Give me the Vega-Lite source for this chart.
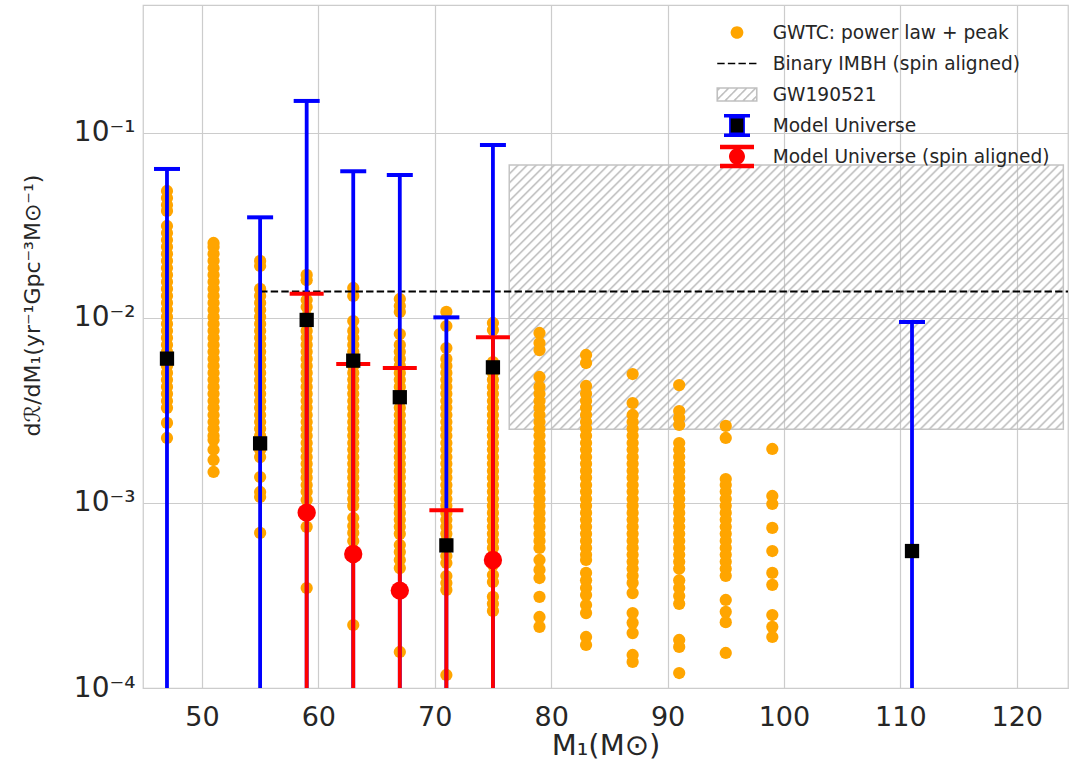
{
"$schema": "https://vega.github.io/schema/vega-lite/v6.json",
"width": 925, "height": 683,
"autosize": {"type": "none"},
"padding": {"left": 143, "top": 5, "right": 2, "bottom": 76},
"background": "white",
"config": {
  "view": {"stroke": "#cccccc", "strokeWidth": 1.25},
  "font": "DejaVu Sans",
  "axis": {"grid": true, "gridColor": "#cccccc", "gridWidth": 1.2, "domain": false, "ticks": false, "labelFont": "DejaVu Sans", "labelColor": "#262626", "labelFontSize": 27, "titleFont": "DejaVu Sans", "titleColor": "#262626", "titleFontWeight": "normal"}
},
"datasets": {
  "box": [{"m": 76.4, "m2": 124.0, "v": 0.0671, "v2": 0.0025}],
  "imbh": [{"m": 55, "m2": 125, "v": 0.0139}],
  "mu": [
    {"m": 47, "c": 0.00603, "hi": 0.0639, "lo": 0.000001},
    {"m": 55, "c": 0.0021, "hi": 0.035, "lo": 0.000001},
    {"m": 59, "c": 0.00976, "hi": 0.149, "lo": 0.000001},
    {"m": 63, "c": 0.00588, "hi": 0.0621, "lo": 0.000001},
    {"m": 67, "c": 0.00373, "hi": 0.0593, "lo": 0.000001},
    {"m": 71, "c": 0.00059, "hi": 0.01008, "lo": 0.000001},
    {"m": 75, "c": 0.00541, "hi": 0.0861, "lo": 0.000001},
    {"m": 111, "c": 0.00055, "hi": 0.00951, "lo": 0.000001}
  ],
  "mus": [
    {"m": 59, "c": 0.000887, "hi": 0.01353, "lo": 0.000001},
    {"m": 63, "c": 0.00053, "hi": 0.00564, "lo": 0.000001},
    {"m": 67, "c": 0.000336, "hi": 0.00537, "lo": 0.000001},
    {"m": 71, "hi": 0.000913, "lo": 0.000001},
    {"m": 75, "c": 0.000492, "hi": 0.00787, "lo": 0.000001}
  ],
  "gwtc": [
    {"m":47,"v":0.04858},{"m":47,"v":0.04453},{"m":47,"v":0.04082},{"m":47,"v":0.0379},{"m":47,"v":0.03143},{"m":47,"v":0.02881},{"m":47,"v":0.02641},{"m":47,"v":0.02421},{"m":47,"v":0.02219},{"m":47,"v":0.02034},{"m":47,"v":0.01864},{"m":47,"v":0.01709},{"m":47,"v":0.01566},{"m":47,"v":0.01436},{"m":47,"v":0.01316},{"m":47,"v":0.01206},{"m":47,"v":0.01106},{"m":47,"v":0.01013},{"m":47,"v":0.00929},{"m":47,"v":0.00851},{"m":47,"v":0.0078},{"m":47,"v":0.00715},{"m":47,"v":0.00656},{"m":47,"v":0.00601},{"m":47,"v":0.00551},{"m":47,"v":0.00505},{"m":47,"v":0.00463},{"m":47,"v":0.00424},{"m":47,"v":0.00389},{"m":47,"v":0.00356},{"m":47,"v":0.00327},{"m":47,"v":0.00271},{"m":47,"v":0.002246},
    {"m":51,"v":0.02543},{"m":51,"v":0.02421},{"m":51,"v":0.02219},{"m":51,"v":0.02034},{"m":51,"v":0.01864},{"m":51,"v":0.01709},{"m":51,"v":0.01566},{"m":51,"v":0.01436},{"m":51,"v":0.01316},{"m":51,"v":0.01206},{"m":51,"v":0.01106},{"m":51,"v":0.01013},{"m":51,"v":0.00929},{"m":51,"v":0.00851},{"m":51,"v":0.0078},{"m":51,"v":0.00715},{"m":51,"v":0.00656},{"m":51,"v":0.00601},{"m":51,"v":0.00551},{"m":51,"v":0.00505},{"m":51,"v":0.00463},{"m":51,"v":0.00424},{"m":51,"v":0.00389},{"m":51,"v":0.00356},{"m":51,"v":0.00327},{"m":51,"v":0.00299},{"m":51,"v":0.00274},{"m":51,"v":0.00252},{"m":51,"v":0.00231},{"m":51,"v":0.00219},{"m":51,"v":0.00194},{"m":51,"v":0.001707},{"m":51,"v":0.001471},
    {"m":55,"v":0.02034},{"m":55,"v":0.0191},{"m":55,"v":0.01436},{"m":55,"v":0.01316},{"m":55,"v":0.01206},{"m":55,"v":0.01106},{"m":55,"v":0.01013},{"m":55,"v":0.00929},{"m":55,"v":0.00851},{"m":55,"v":0.0078},{"m":55,"v":0.00715},{"m":55,"v":0.00656},{"m":55,"v":0.00601},{"m":55,"v":0.00551},{"m":55,"v":0.00505},{"m":55,"v":0.00463},{"m":55,"v":0.00424},{"m":55,"v":0.00389},{"m":55,"v":0.00356},{"m":55,"v":0.00327},{"m":55,"v":0.00299},{"m":55,"v":0.00274},{"m":55,"v":0.00252},{"m":55,"v":0.00231},{"m":55,"v":0.00211},{"m":55,"v":0.00194},{"m":55,"v":0.00177},{"m":55,"v":0.001382},{"m":55,"v":0.001147},{"m":55,"v":0.001078},{"m":55,"v":0.000689},
    {"m":59,"v":0.01709},{"m":59,"v":0.016},{"m":59,"v":0.01251},{"m":59,"v":0.01147},{"m":59,"v":0.01013},{"m":59,"v":0.00929},{"m":59,"v":0.00851},{"m":59,"v":0.0078},{"m":59,"v":0.00715},{"m":59,"v":0.00656},{"m":59,"v":0.00601},{"m":59,"v":0.00551},{"m":59,"v":0.00505},{"m":59,"v":0.00463},{"m":59,"v":0.00424},{"m":59,"v":0.00389},{"m":59,"v":0.00356},{"m":59,"v":0.00327},{"m":59,"v":0.00299},{"m":59,"v":0.00274},{"m":59,"v":0.00252},{"m":59,"v":0.00231},{"m":59,"v":0.00211},{"m":59,"v":0.00194},{"m":59,"v":0.00177},{"m":59,"v":0.00163},{"m":59,"v":0.00149},{"m":59,"v":0.00137},{"m":59,"v":0.00125},{"m":59,"v":0.00115},{"m":59,"v":0.001038},{"m":59,"v":0.000884},{"m":59,"v":0.000743},{"m":59,"v":0.000347},
    {"m":63,"v":0.01453},{"m":63,"v":0.01316},{"m":63,"v":0.00963},{"m":63,"v":0.00851},{"m":63,"v":0.0078},{"m":63,"v":0.00715},{"m":63,"v":0.00656},{"m":63,"v":0.00601},{"m":63,"v":0.00551},{"m":63,"v":0.00505},{"m":63,"v":0.00463},{"m":63,"v":0.00424},{"m":63,"v":0.00389},{"m":63,"v":0.00356},{"m":63,"v":0.00327},{"m":63,"v":0.00299},{"m":63,"v":0.00274},{"m":63,"v":0.00252},{"m":63,"v":0.00231},{"m":63,"v":0.00211},{"m":63,"v":0.00194},{"m":63,"v":0.00177},{"m":63,"v":0.00163},{"m":63,"v":0.00149},{"m":63,"v":0.00137},{"m":63,"v":0.00125},{"m":63,"v":0.00115},{"m":63,"v":0.00105},{"m":63,"v":0.000965},{"m":63,"v":0.00083},{"m":63,"v":0.000751},{"m":63,"v":0.000689},{"m":63,"v":0.000623},{"m":63,"v":0.000219},
    {"m":67,"v":0.01267},{"m":67,"v":0.01161},{"m":67,"v":0.01078},{"m":67,"v":0.00819},{"m":67,"v":0.00715},{"m":67,"v":0.00656},{"m":67,"v":0.00601},{"m":67,"v":0.00551},{"m":67,"v":0.00505},{"m":67,"v":0.00463},{"m":67,"v":0.00424},{"m":67,"v":0.00389},{"m":67,"v":0.00356},{"m":67,"v":0.00327},{"m":67,"v":0.00299},{"m":67,"v":0.00274},{"m":67,"v":0.00252},{"m":67,"v":0.00231},{"m":67,"v":0.00211},{"m":67,"v":0.00194},{"m":67,"v":0.00177},{"m":67,"v":0.00163},{"m":67,"v":0.00149},{"m":67,"v":0.00137},{"m":67,"v":0.00125},{"m":67,"v":0.00115},{"m":67,"v":0.00105},{"m":67,"v":0.000965},{"m":67,"v":0.000884},{"m":67,"v":0.000811},{"m":67,"v":0.000743},{"m":67,"v":0.000681},{"m":67,"v":0.000593},{"m":67,"v":0.000543},{"m":67,"v":0.000492},{"m":67,"v":0.000445},{"m":67,"v":0.0001566},
    {"m":71,"v":0.01078},{"m":71,"v":0.00905},{"m":71,"v":0.00688},{"m":71,"v":0.00601},{"m":71,"v":0.00551},{"m":71,"v":0.00505},{"m":71,"v":0.00463},{"m":71,"v":0.00424},{"m":71,"v":0.00389},{"m":71,"v":0.00356},{"m":71,"v":0.00327},{"m":71,"v":0.00299},{"m":71,"v":0.00274},{"m":71,"v":0.00252},{"m":71,"v":0.00231},{"m":71,"v":0.00211},{"m":71,"v":0.00194},{"m":71,"v":0.00177},{"m":71,"v":0.00163},{"m":71,"v":0.00149},{"m":71,"v":0.00137},{"m":71,"v":0.00125},{"m":71,"v":0.00115},{"m":71,"v":0.00105},{"m":71,"v":0.000965},{"m":71,"v":0.000884},{"m":71,"v":0.000811},{"m":71,"v":0.000743},{"m":71,"v":0.000681},{"m":71,"v":0.000624},{"m":71,"v":0.000517},{"m":71,"v":0.000474},{"m":71,"v":0.000403},{"m":71,"v":0.000369},{"m":71,"v":0.000339},{"m":71,"v":0.0001176},
    {"m":75,"v":0.0094},{"m":75,"v":0.00861},{"m":75,"v":0.00578},{"m":75,"v":0.00505},{"m":75,"v":0.00463},{"m":75,"v":0.00424},{"m":75,"v":0.00389},{"m":75,"v":0.00356},{"m":75,"v":0.00327},{"m":75,"v":0.00299},{"m":75,"v":0.00274},{"m":75,"v":0.00252},{"m":75,"v":0.00231},{"m":75,"v":0.00211},{"m":75,"v":0.00194},{"m":75,"v":0.00177},{"m":75,"v":0.00163},{"m":75,"v":0.00149},{"m":75,"v":0.00137},{"m":75,"v":0.00125},{"m":75,"v":0.00115},{"m":75,"v":0.00105},{"m":75,"v":0.000965},{"m":75,"v":0.000884},{"m":75,"v":0.000811},{"m":75,"v":0.000743},{"m":75,"v":0.000681},{"m":75,"v":0.000624},{"m":75,"v":0.000572},{"m":75,"v":0.000517},{"m":75,"v":0.000462},{"m":75,"v":0.000408},{"m":75,"v":0.000374},{"m":75,"v":0.000311},{"m":75,"v":0.000285},{"m":75,"v":0.000261},
    {"m":79,"v":0.0083},{"m":79,"v":0.00732},{"m":79,"v":0.00671},{"m":79,"v":0.0048},{"m":79,"v":0.00424},{"m":79,"v":0.00389},{"m":79,"v":0.00356},{"m":79,"v":0.00327},{"m":79,"v":0.00299},{"m":79,"v":0.00274},{"m":79,"v":0.00252},{"m":79,"v":0.00231},{"m":79,"v":0.00211},{"m":79,"v":0.00194},{"m":79,"v":0.00177},{"m":79,"v":0.00163},{"m":79,"v":0.00149},{"m":79,"v":0.00137},{"m":79,"v":0.00125},{"m":79,"v":0.00115},{"m":79,"v":0.00105},{"m":79,"v":0.000965},{"m":79,"v":0.000884},{"m":79,"v":0.000811},{"m":79,"v":0.000743},{"m":79,"v":0.000681},{"m":79,"v":0.000624},{"m":79,"v":0.000572},{"m":79,"v":0.000492},{"m":79,"v":0.000435},{"m":79,"v":0.000393},{"m":79,"v":0.000311},{"m":79,"v":0.000242},{"m":79,"v":0.000214},
    {"m":83,"v":0.00631},{"m":83,"v":0.00571},{"m":83,"v":0.00429},{"m":83,"v":0.00389},{"m":83,"v":0.00356},{"m":83,"v":0.00327},{"m":83,"v":0.00299},{"m":83,"v":0.00274},{"m":83,"v":0.00252},{"m":83,"v":0.00231},{"m":83,"v":0.00211},{"m":83,"v":0.00194},{"m":83,"v":0.00177},{"m":83,"v":0.00163},{"m":83,"v":0.00149},{"m":83,"v":0.00137},{"m":83,"v":0.00125},{"m":83,"v":0.00115},{"m":83,"v":0.00105},{"m":83,"v":0.000965},{"m":83,"v":0.000884},{"m":83,"v":0.000811},{"m":83,"v":0.000743},{"m":83,"v":0.000681},{"m":83,"v":0.000624},{"m":83,"v":0.000572},{"m":83,"v":0.000525},{"m":83,"v":0.000492},{"m":83,"v":0.000419},{"m":83,"v":0.000382},{"m":83,"v":0.000347},{"m":83,"v":0.000318},{"m":83,"v":0.000281},{"m":83,"v":0.000254},{"m":83,"v":0.0001887},{"m":83,"v":0.0001708},
    {"m":87,"v":0.00498},{"m":87,"v":0.00347},{"m":87,"v":0.00299},{"m":87,"v":0.00274},{"m":87,"v":0.00252},{"m":87,"v":0.00231},{"m":87,"v":0.00211},{"m":87,"v":0.00194},{"m":87,"v":0.00177},{"m":87,"v":0.00163},{"m":87,"v":0.00149},{"m":87,"v":0.00137},{"m":87,"v":0.00125},{"m":87,"v":0.00115},{"m":87,"v":0.00105},{"m":87,"v":0.000965},{"m":87,"v":0.000884},{"m":87,"v":0.000811},{"m":87,"v":0.000743},{"m":87,"v":0.000681},{"m":87,"v":0.000624},{"m":87,"v":0.000572},{"m":87,"v":0.000525},{"m":87,"v":0.000481},{"m":87,"v":0.000441},{"m":87,"v":0.000404},{"m":87,"v":0.00037},{"m":87,"v":0.000326},{"m":87,"v":0.000254},{"m":87,"v":0.000225},{"m":87,"v":0.000198},{"m":87,"v":0.0001508},{"m":87,"v":0.0001383},
    {"m":91,"v":0.00434},{"m":91,"v":0.00314},{"m":91,"v":0.00288},{"m":91,"v":0.00264},{"m":91,"v":0.00211},{"m":91,"v":0.00194},{"m":91,"v":0.00177},{"m":91,"v":0.00163},{"m":91,"v":0.00149},{"m":91,"v":0.00137},{"m":91,"v":0.00125},{"m":91,"v":0.00115},{"m":91,"v":0.00105},{"m":91,"v":0.000965},{"m":91,"v":0.000884},{"m":91,"v":0.000811},{"m":91,"v":0.000743},{"m":91,"v":0.000681},{"m":91,"v":0.000624},{"m":91,"v":0.000572},{"m":91,"v":0.000525},{"m":91,"v":0.000481},{"m":91,"v":0.000441},{"m":91,"v":0.000382},{"m":91,"v":0.000347},{"m":91,"v":0.000314},{"m":91,"v":0.000285},{"m":91,"v":0.0001818},{"m":91,"v":0.0001667},{"m":91,"v":0.0001205},
    {"m":95,"v":0.00261},{"m":95,"v":0.002246},{"m":95,"v":0.001348},{"m":95,"v":0.00125},{"m":95,"v":0.00115},{"m":95,"v":0.00105},{"m":95,"v":0.000965},{"m":95,"v":0.000884},{"m":95,"v":0.000811},{"m":95,"v":0.000743},{"m":95,"v":0.000681},{"m":95,"v":0.000624},{"m":95,"v":0.000572},{"m":95,"v":0.000525},{"m":95,"v":0.000481},{"m":95,"v":0.000441},{"m":95,"v":0.000404},{"m":95,"v":0.000299},{"m":95,"v":0.000258},{"m":95,"v":0.000227},{"m":95,"v":0.0001546},
    {"m":99,"v":0.001959},{"m":99,"v":0.001091},{"m":99,"v":0.000988},{"m":99,"v":0.000733},{"m":99,"v":0.00055},{"m":99,"v":0.000419},{"m":99,"v":0.000361},{"m":99,"v":0.000248},{"m":99,"v":0.000214},{"m":99,"v":0.0001887}
  ]
},
"layer": [
  {
    "data": {"name": "box"},
    "mark": {"type": "rect", "stroke": "#c4c4c4", "strokeWidth": 1.5, "fill": {"gradient": "linear", "x1": 0, "y1": 0, "x2": 1.2032, "y2": 0.5744, "stops": [
      {"offset":0,"color":"#b8b8b8"},{"offset":0.0025,"color":"rgba(184,184,184,0)"},{"offset":0.0085,"color":"rgba(184,184,184,0)"},
      {"offset":0.011,"color":"#b8b8b8"},{"offset":0.0135,"color":"rgba(184,184,184,0)"},{"offset":0.0195,"color":"rgba(184,184,184,0)"},
      {"offset":0.022,"color":"#b8b8b8"},{"offset":0.0245,"color":"rgba(184,184,184,0)"},{"offset":0.0305,"color":"rgba(184,184,184,0)"},
      {"offset":0.033,"color":"#b8b8b8"},{"offset":0.0355,"color":"rgba(184,184,184,0)"},{"offset":0.0415,"color":"rgba(184,184,184,0)"},
      {"offset":0.044,"color":"#b8b8b8"},{"offset":0.0465,"color":"rgba(184,184,184,0)"},{"offset":0.0525,"color":"rgba(184,184,184,0)"},
      {"offset":0.055,"color":"#b8b8b8"},{"offset":0.0575,"color":"rgba(184,184,184,0)"},{"offset":0.0635,"color":"rgba(184,184,184,0)"},
      {"offset":0.066,"color":"#b8b8b8"},{"offset":0.0685,"color":"rgba(184,184,184,0)"},{"offset":0.0745,"color":"rgba(184,184,184,0)"},
      {"offset":0.077,"color":"#b8b8b8"},{"offset":0.0795,"color":"rgba(184,184,184,0)"},{"offset":0.0855,"color":"rgba(184,184,184,0)"},
      {"offset":0.088,"color":"#b8b8b8"},{"offset":0.0905,"color":"rgba(184,184,184,0)"},{"offset":0.0965,"color":"rgba(184,184,184,0)"},
      {"offset":0.099,"color":"#b8b8b8"},{"offset":0.1015,"color":"rgba(184,184,184,0)"},{"offset":0.1075,"color":"rgba(184,184,184,0)"},
      {"offset":0.11,"color":"#b8b8b8"},{"offset":0.1125,"color":"rgba(184,184,184,0)"},{"offset":0.1185,"color":"rgba(184,184,184,0)"},
      {"offset":0.121,"color":"#b8b8b8"},{"offset":0.1235,"color":"rgba(184,184,184,0)"},{"offset":0.1295,"color":"rgba(184,184,184,0)"},
      {"offset":0.132,"color":"#b8b8b8"},{"offset":0.1345,"color":"rgba(184,184,184,0)"},{"offset":0.1405,"color":"rgba(184,184,184,0)"},
      {"offset":0.143,"color":"#b8b8b8"},{"offset":0.1455,"color":"rgba(184,184,184,0)"},{"offset":0.1515,"color":"rgba(184,184,184,0)"},
      {"offset":0.154,"color":"#b8b8b8"},{"offset":0.1565,"color":"rgba(184,184,184,0)"},{"offset":0.1625,"color":"rgba(184,184,184,0)"},
      {"offset":0.165,"color":"#b8b8b8"},{"offset":0.1675,"color":"rgba(184,184,184,0)"},{"offset":0.1735,"color":"rgba(184,184,184,0)"},
      {"offset":0.176,"color":"#b8b8b8"},{"offset":0.1785,"color":"rgba(184,184,184,0)"},{"offset":0.1845,"color":"rgba(184,184,184,0)"},
      {"offset":0.187,"color":"#b8b8b8"},{"offset":0.1895,"color":"rgba(184,184,184,0)"},{"offset":0.1955,"color":"rgba(184,184,184,0)"},
      {"offset":0.198,"color":"#b8b8b8"},{"offset":0.2005,"color":"rgba(184,184,184,0)"},{"offset":0.2065,"color":"rgba(184,184,184,0)"},
      {"offset":0.209,"color":"#b8b8b8"},{"offset":0.2115,"color":"rgba(184,184,184,0)"},{"offset":0.2175,"color":"rgba(184,184,184,0)"},
      {"offset":0.22,"color":"#b8b8b8"},{"offset":0.2225,"color":"rgba(184,184,184,0)"},{"offset":0.2285,"color":"rgba(184,184,184,0)"},
      {"offset":0.231,"color":"#b8b8b8"},{"offset":0.2335,"color":"rgba(184,184,184,0)"},{"offset":0.2395,"color":"rgba(184,184,184,0)"},
      {"offset":0.242,"color":"#b8b8b8"},{"offset":0.2445,"color":"rgba(184,184,184,0)"},{"offset":0.2505,"color":"rgba(184,184,184,0)"},
      {"offset":0.253,"color":"#b8b8b8"},{"offset":0.2555,"color":"rgba(184,184,184,0)"},{"offset":0.2615,"color":"rgba(184,184,184,0)"},
      {"offset":0.264,"color":"#b8b8b8"},{"offset":0.2665,"color":"rgba(184,184,184,0)"},{"offset":0.2725,"color":"rgba(184,184,184,0)"},
      {"offset":0.275,"color":"#b8b8b8"},{"offset":0.2775,"color":"rgba(184,184,184,0)"},{"offset":0.2835,"color":"rgba(184,184,184,0)"},
      {"offset":0.286,"color":"#b8b8b8"},{"offset":0.2885,"color":"rgba(184,184,184,0)"},{"offset":0.2945,"color":"rgba(184,184,184,0)"},
      {"offset":0.297,"color":"#b8b8b8"},{"offset":0.2995,"color":"rgba(184,184,184,0)"},{"offset":0.3055,"color":"rgba(184,184,184,0)"},
      {"offset":0.308,"color":"#b8b8b8"},{"offset":0.3105,"color":"rgba(184,184,184,0)"},{"offset":0.3165,"color":"rgba(184,184,184,0)"},
      {"offset":0.319,"color":"#b8b8b8"},{"offset":0.3215,"color":"rgba(184,184,184,0)"},{"offset":0.3275,"color":"rgba(184,184,184,0)"},
      {"offset":0.33,"color":"#b8b8b8"},{"offset":0.3325,"color":"rgba(184,184,184,0)"},{"offset":0.3385,"color":"rgba(184,184,184,0)"},
      {"offset":0.341,"color":"#b8b8b8"},{"offset":0.3435,"color":"rgba(184,184,184,0)"},{"offset":0.3495,"color":"rgba(184,184,184,0)"},
      {"offset":0.352,"color":"#b8b8b8"},{"offset":0.3545,"color":"rgba(184,184,184,0)"},{"offset":0.3605,"color":"rgba(184,184,184,0)"},
      {"offset":0.363,"color":"#b8b8b8"},{"offset":0.3655,"color":"rgba(184,184,184,0)"},{"offset":0.3715,"color":"rgba(184,184,184,0)"},
      {"offset":0.374,"color":"#b8b8b8"},{"offset":0.3765,"color":"rgba(184,184,184,0)"},{"offset":0.3825,"color":"rgba(184,184,184,0)"},
      {"offset":0.385,"color":"#b8b8b8"},{"offset":0.3875,"color":"rgba(184,184,184,0)"},{"offset":0.3935,"color":"rgba(184,184,184,0)"},
      {"offset":0.396,"color":"#b8b8b8"},{"offset":0.3985,"color":"rgba(184,184,184,0)"},{"offset":0.4045,"color":"rgba(184,184,184,0)"},
      {"offset":0.407,"color":"#b8b8b8"},{"offset":0.4095,"color":"rgba(184,184,184,0)"},{"offset":0.4155,"color":"rgba(184,184,184,0)"},
      {"offset":0.418,"color":"#b8b8b8"},{"offset":0.4205,"color":"rgba(184,184,184,0)"},{"offset":0.4265,"color":"rgba(184,184,184,0)"},
      {"offset":0.429,"color":"#b8b8b8"},{"offset":0.4315,"color":"rgba(184,184,184,0)"},{"offset":0.4375,"color":"rgba(184,184,184,0)"},
      {"offset":0.44,"color":"#b8b8b8"},{"offset":0.4425,"color":"rgba(184,184,184,0)"},{"offset":0.4485,"color":"rgba(184,184,184,0)"},
      {"offset":0.451,"color":"#b8b8b8"},{"offset":0.4535,"color":"rgba(184,184,184,0)"},{"offset":0.4595,"color":"rgba(184,184,184,0)"},
      {"offset":0.462,"color":"#b8b8b8"},{"offset":0.4645,"color":"rgba(184,184,184,0)"},{"offset":0.4705,"color":"rgba(184,184,184,0)"},
      {"offset":0.473,"color":"#b8b8b8"},{"offset":0.4755,"color":"rgba(184,184,184,0)"},{"offset":0.4815,"color":"rgba(184,184,184,0)"},
      {"offset":0.484,"color":"#b8b8b8"},{"offset":0.4865,"color":"rgba(184,184,184,0)"},{"offset":0.4925,"color":"rgba(184,184,184,0)"},
      {"offset":0.495,"color":"#b8b8b8"},{"offset":0.4975,"color":"rgba(184,184,184,0)"},{"offset":0.5035,"color":"rgba(184,184,184,0)"},
      {"offset":0.506,"color":"#b8b8b8"},{"offset":0.5085,"color":"rgba(184,184,184,0)"},{"offset":0.5145,"color":"rgba(184,184,184,0)"},
      {"offset":0.517,"color":"#b8b8b8"},{"offset":0.5195,"color":"rgba(184,184,184,0)"},{"offset":0.5255,"color":"rgba(184,184,184,0)"},
      {"offset":0.528,"color":"#b8b8b8"},{"offset":0.5305,"color":"rgba(184,184,184,0)"},{"offset":0.5365,"color":"rgba(184,184,184,0)"},
      {"offset":0.539,"color":"#b8b8b8"},{"offset":0.5415,"color":"rgba(184,184,184,0)"},{"offset":0.5475,"color":"rgba(184,184,184,0)"},
      {"offset":0.55,"color":"#b8b8b8"},{"offset":0.5525,"color":"rgba(184,184,184,0)"},{"offset":0.5585,"color":"rgba(184,184,184,0)"},
      {"offset":0.561,"color":"#b8b8b8"},{"offset":0.5635,"color":"rgba(184,184,184,0)"},{"offset":0.5695,"color":"rgba(184,184,184,0)"},
      {"offset":0.572,"color":"#b8b8b8"},{"offset":0.5745,"color":"rgba(184,184,184,0)"},{"offset":0.5805,"color":"rgba(184,184,184,0)"},
      {"offset":0.583,"color":"#b8b8b8"},{"offset":0.5855,"color":"rgba(184,184,184,0)"},{"offset":0.5915,"color":"rgba(184,184,184,0)"},
      {"offset":0.594,"color":"#b8b8b8"},{"offset":0.5965,"color":"rgba(184,184,184,0)"},{"offset":0.6025,"color":"rgba(184,184,184,0)"},
      {"offset":0.605,"color":"#b8b8b8"},{"offset":0.6075,"color":"rgba(184,184,184,0)"},{"offset":0.6135,"color":"rgba(184,184,184,0)"},
      {"offset":0.616,"color":"#b8b8b8"},{"offset":0.6185,"color":"rgba(184,184,184,0)"},{"offset":0.6245,"color":"rgba(184,184,184,0)"},
      {"offset":0.627,"color":"#b8b8b8"},{"offset":0.6295,"color":"rgba(184,184,184,0)"},{"offset":0.6355,"color":"rgba(184,184,184,0)"},
      {"offset":0.638,"color":"#b8b8b8"},{"offset":0.6405,"color":"rgba(184,184,184,0)"},{"offset":0.6465,"color":"rgba(184,184,184,0)"},
      {"offset":0.649,"color":"#b8b8b8"},{"offset":0.6515,"color":"rgba(184,184,184,0)"},{"offset":0.6575,"color":"rgba(184,184,184,0)"},
      {"offset":0.66,"color":"#b8b8b8"},{"offset":0.6625,"color":"rgba(184,184,184,0)"},{"offset":0.6685,"color":"rgba(184,184,184,0)"},
      {"offset":0.671,"color":"#b8b8b8"},{"offset":0.6735,"color":"rgba(184,184,184,0)"},{"offset":0.6795,"color":"rgba(184,184,184,0)"},
      {"offset":0.682,"color":"#b8b8b8"},{"offset":0.6845,"color":"rgba(184,184,184,0)"},{"offset":0.6905,"color":"rgba(184,184,184,0)"},
      {"offset":0.693,"color":"#b8b8b8"},{"offset":0.6955,"color":"rgba(184,184,184,0)"},{"offset":0.7015,"color":"rgba(184,184,184,0)"},
      {"offset":0.704,"color":"#b8b8b8"},{"offset":0.7065,"color":"rgba(184,184,184,0)"},{"offset":0.7125,"color":"rgba(184,184,184,0)"},
      {"offset":0.715,"color":"#b8b8b8"},{"offset":0.7175,"color":"rgba(184,184,184,0)"},{"offset":0.7235,"color":"rgba(184,184,184,0)"},
      {"offset":0.726,"color":"#b8b8b8"},{"offset":0.7285,"color":"rgba(184,184,184,0)"},{"offset":0.7345,"color":"rgba(184,184,184,0)"},
      {"offset":0.737,"color":"#b8b8b8"},{"offset":0.7395,"color":"rgba(184,184,184,0)"},{"offset":0.7455,"color":"rgba(184,184,184,0)"},
      {"offset":0.748,"color":"#b8b8b8"},{"offset":0.7505,"color":"rgba(184,184,184,0)"},{"offset":0.7565,"color":"rgba(184,184,184,0)"},
      {"offset":0.759,"color":"#b8b8b8"},{"offset":0.7615,"color":"rgba(184,184,184,0)"},{"offset":0.7675,"color":"rgba(184,184,184,0)"},
      {"offset":0.77,"color":"#b8b8b8"},{"offset":0.7725,"color":"rgba(184,184,184,0)"},{"offset":0.7785,"color":"rgba(184,184,184,0)"},
      {"offset":0.781,"color":"#b8b8b8"},{"offset":0.7835,"color":"rgba(184,184,184,0)"},{"offset":0.7895,"color":"rgba(184,184,184,0)"},
      {"offset":0.792,"color":"#b8b8b8"},{"offset":0.7945,"color":"rgba(184,184,184,0)"},{"offset":0.8005,"color":"rgba(184,184,184,0)"},
      {"offset":0.803,"color":"#b8b8b8"},{"offset":0.8055,"color":"rgba(184,184,184,0)"},{"offset":0.8115,"color":"rgba(184,184,184,0)"},
      {"offset":0.814,"color":"#b8b8b8"},{"offset":0.8165,"color":"rgba(184,184,184,0)"},{"offset":0.8225,"color":"rgba(184,184,184,0)"},
      {"offset":0.825,"color":"#b8b8b8"},{"offset":0.8275,"color":"rgba(184,184,184,0)"},{"offset":0.8335,"color":"rgba(184,184,184,0)"},
      {"offset":0.836,"color":"#b8b8b8"},{"offset":0.8385,"color":"rgba(184,184,184,0)"},{"offset":0.8445,"color":"rgba(184,184,184,0)"},
      {"offset":0.847,"color":"#b8b8b8"},{"offset":0.8495,"color":"rgba(184,184,184,0)"},{"offset":0.8555,"color":"rgba(184,184,184,0)"},
      {"offset":0.858,"color":"#b8b8b8"},{"offset":0.8605,"color":"rgba(184,184,184,0)"},{"offset":0.8665,"color":"rgba(184,184,184,0)"},
      {"offset":0.869,"color":"#b8b8b8"},{"offset":0.8715,"color":"rgba(184,184,184,0)"},{"offset":0.8775,"color":"rgba(184,184,184,0)"},
      {"offset":0.88,"color":"#b8b8b8"},{"offset":0.8825,"color":"rgba(184,184,184,0)"},{"offset":0.8885,"color":"rgba(184,184,184,0)"},
      {"offset":0.891,"color":"#b8b8b8"},{"offset":0.8935,"color":"rgba(184,184,184,0)"},{"offset":0.8995,"color":"rgba(184,184,184,0)"},
      {"offset":0.902,"color":"#b8b8b8"},{"offset":0.9045,"color":"rgba(184,184,184,0)"},{"offset":0.9105,"color":"rgba(184,184,184,0)"},
      {"offset":0.913,"color":"#b8b8b8"},{"offset":0.9155,"color":"rgba(184,184,184,0)"},{"offset":0.9215,"color":"rgba(184,184,184,0)"},
      {"offset":0.924,"color":"#b8b8b8"},{"offset":0.9265,"color":"rgba(184,184,184,0)"},{"offset":0.9325,"color":"rgba(184,184,184,0)"},
      {"offset":0.935,"color":"#b8b8b8"},{"offset":0.9375,"color":"rgba(184,184,184,0)"},{"offset":0.9435,"color":"rgba(184,184,184,0)"},
      {"offset":0.946,"color":"#b8b8b8"},{"offset":0.9485,"color":"rgba(184,184,184,0)"},{"offset":0.9545,"color":"rgba(184,184,184,0)"},
      {"offset":0.957,"color":"#b8b8b8"},{"offset":0.9595,"color":"rgba(184,184,184,0)"},{"offset":0.9655,"color":"rgba(184,184,184,0)"},
      {"offset":0.968,"color":"#b8b8b8"},{"offset":0.9705,"color":"rgba(184,184,184,0)"},{"offset":0.9765,"color":"rgba(184,184,184,0)"},
      {"offset":0.979,"color":"#b8b8b8"},{"offset":0.9815,"color":"rgba(184,184,184,0)"},{"offset":0.9875,"color":"rgba(184,184,184,0)"},
      {"offset":0.99,"color":"#b8b8b8"},{"offset":0.9925,"color":"rgba(184,184,184,0)"},{"offset":1,"color":"rgba(184,184,184,0)"}
    ]}},
    "encoding": {
      "x": {"field": "m", "type": "quantitative", "scale": {"domain": [44.94, 124.4], "nice": false, "zero": false}, "axis": {"title": "M₁(M⊙)", "values": [50, 60, 70, 80, 90, 100, 110, 120], "labelPadding": 16, "titlePadding": 1, "titleFontSize": 29}},
      "x2": {"field": "m2"},
      "y": {"field": "v", "type": "quantitative", "scale": {"type": "log", "domain": [0.0001, 0.4918], "nice": false}, "axis": {"title": "dℛ/dM₁(yr⁻¹Gpc⁻³M⊙⁻¹)", "values": [0.0001, 0.001, 0.01, 0.1], "labelExpr": "datum.value >= 0.05 ? '10⁻¹' : datum.value >= 0.005 ? '10⁻²' : datum.value >= 0.0005 ? '10⁻³' : '10⁻⁴'", "labelPadding": 8, "labelFontSize": 28, "titleFontSize": 22, "titleX": -111, "titleY": 300, "titleBaseline": "middle"}},
      "y2": {"field": "v2"}
    }
  },
  {
    "data": {"name": "gwtc"},
    "mark": {"type": "circle", "size": 150, "opacity": 1},
    "encoding": {
      "x": {"field": "m", "type": "quantitative", "scale": {"domain": [44.94, 124.4], "nice": false, "zero": false}},
      "y": {"field": "v", "type": "quantitative", "scale": {"type": "log", "domain": [0.0001, 0.4918], "nice": false}},
      "color": {"datum": "GWTC: power law + peak", "type": "nominal",
        "scale": {"domain": ["GWTC: power law + peak", "Binary IMBH (spin aligned)", "GW190521", "Model Universe", "Model Universe (spin aligned)"],
                  "range": ["#ffa500", "transparent", "transparent", "#000000", "#ff0000"]},
        "legend": {
          "title": null, "orient": "none", "legendX": 584.5, "legendY": 18, "padding": 0,
          "labelFont": "DejaVu Sans", "labelFontSize": 18.6, "labelColor": "#262626", "labelOffset": 26.2, "labelLimit": 500,
          "symbolSize": 289, "symbolStrokeWidth": 1.6, "rowPadding": 0, "symbolOpacity": 1,
          "symbolType": {"expr": "datum.value == 'GWTC: power law + peak' ? 'M0.747,0A0.747,0.747,0,1,1,-0.747,0A0.747,0.747,0,1,1,0.747,0Z M0,-1.382M0,1.382' : datum.value == 'Binary IMBH (spin aligned)' ? 'M-2.3235,0H2.3235M0,-1.382M0,1.382' : datum.value == 'GW190521' ? 'M-2.3235,-0.767H2.3235V0.767H-2.3235Z M-2.3235,-0.465L-2.021,-0.767 M-2.3235,0.595L-0.962,-0.767 M-1.436,0.767L0.098,-0.767 M-0.376,0.767L1.157,-0.767 M0.683,0.767L2.217,-0.767 M1.743,0.767L2.3235,0.186 M0,-1.382M0,1.382' : datum.value == 'Model Universe' ? 'M-0.836,-0.929H0.836V0.929H-0.836Z M-1.529,-1.022H1.529 M-1.529,-1.139H1.529 M-1.529,-1.255H1.529 M-1.529,1.022H1.529 M-1.529,1.139H1.529 M-1.529,1.255H1.529 M0,-1.382M0,1.382' : 'M-2,-1.371H2V-0.864H-2Z M0.941,0A0.941,0.941,0,1,1,-0.941,0A0.941,0.941,0,1,1,0.941,0Z M-2,0.864H2V1.371H-2Z'"},
          "symbolStrokeColor": {"expr": "datum.value == 'Binary IMBH (spin aligned)' ? '#000000' : datum.value == 'GW190521' ? '#c0c0c0' : datum.value == 'Model Universe' ? '#0000ff' : 'transparent'"},
          "symbolDash": {"expr": "datum.value == 'Binary IMBH (spin aligned)' ? [7.4, 3.2] : [1, 0]"}
        }
      }
    }
  },
  {
    "data": {"name": "imbh"},
    "mark": {"type": "rule", "color": "#000000", "strokeWidth": 2, "strokeDash": [7.4, 3.2], "clip": true},
    "encoding": {
      "x": {"field": "m", "type": "quantitative", "scale": {"domain": [44.94, 124.4], "nice": false, "zero": false}},
      "x2": {"field": "m2"},
      "y": {"field": "v", "type": "quantitative", "scale": {"type": "log", "domain": [0.0001, 0.4918], "nice": false}}
    }
  },
  {
    "data": {"name": "mu"},
    "mark": {"type": "rule", "color": "#0000ff", "strokeWidth": 3.8, "clip": true},
    "encoding": {
      "x": {"field": "m", "type": "quantitative", "scale": {"domain": [44.94, 124.4], "nice": false, "zero": false}},
      "y": {"field": "hi", "type": "quantitative", "scale": {"type": "log", "domain": [0.0001, 0.4918], "nice": false}},
      "y2": {"field": "lo"}
    }
  },
  {
    "data": {"name": "mus"},
    "mark": {"type": "rule", "color": "#ff0000", "strokeWidth": 3.8, "clip": true},
    "encoding": {
      "x": {"field": "m", "type": "quantitative", "scale": {"domain": [44.94, 124.4], "nice": false, "zero": false}},
      "y": {"field": "hi", "type": "quantitative", "scale": {"type": "log", "domain": [0.0001, 0.4918], "nice": false}},
      "y2": {"field": "lo"}
    }
  },
  {
    "data": {"name": "mu"},
    "mark": {"type": "tick", "orient": "horizontal", "color": "#0000ff", "size": 26, "thickness": 4, "opacity": 1},
    "encoding": {
      "x": {"field": "m", "type": "quantitative", "scale": {"domain": [44.94, 124.4], "nice": false, "zero": false}},
      "y": {"field": "hi", "type": "quantitative", "scale": {"type": "log", "domain": [0.0001, 0.4918], "nice": false}}
    }
  },
  {
    "data": {"name": "mus"},
    "mark": {"type": "tick", "orient": "horizontal", "color": "#ff0000", "size": 34, "thickness": 4, "opacity": 1},
    "encoding": {
      "x": {"field": "m", "type": "quantitative", "scale": {"domain": [44.94, 124.4], "nice": false, "zero": false}},
      "y": {"field": "hi", "type": "quantitative", "scale": {"type": "log", "domain": [0.0001, 0.4918], "nice": false}}
    }
  },
  {
    "data": {"name": "mu"},
    "mark": {"type": "square", "size": 204, "color": "#000000", "opacity": 1},
    "encoding": {
      "x": {"field": "m", "type": "quantitative", "scale": {"domain": [44.94, 124.4], "nice": false, "zero": false}},
      "y": {"field": "c", "type": "quantitative", "scale": {"type": "log", "domain": [0.0001, 0.4918], "nice": false}}
    }
  },
  {
    "data": {"name": "mus"},
    "mark": {"type": "circle", "size": 336, "color": "#ff0000", "opacity": 1},
    "encoding": {
      "x": {"field": "m", "type": "quantitative", "scale": {"domain": [44.94, 124.4], "nice": false, "zero": false}},
      "y": {"field": "c", "type": "quantitative", "scale": {"type": "log", "domain": [0.0001, 0.4918], "nice": false}}
    }
  }
]
}
